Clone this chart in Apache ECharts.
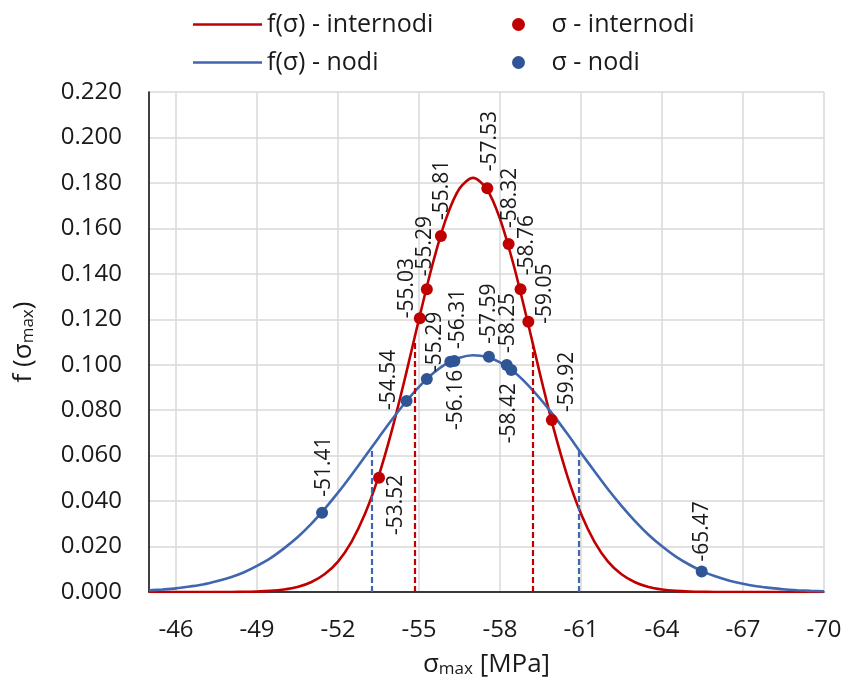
<!DOCTYPE html>
<html>
<head>
<meta charset="utf-8">
<script src="https://cdn.jsdelivr.net/npm/echarts@6/dist/echarts.min.js"></script>
<style>html,body{margin:0;padding:0;background:#fff}#chart{width:848px;height:693px}</style>
</head>
<body>
<div id="chart"></div>
<script>
// ---------------- data ----------------
const seriesNames = ['f(σ) - internodi', 'f(σ) - nodi', 'σ - internodi', 'σ - nodi'];
const xTicks = [-46, -49, -52, -55, -58, -61, -64, -67, -70];

const curveX = [-45, -45.5, -46, -46.5, -47, -47.5, -48, -48.5, -49, -49.5,
  -50, -50.5, -51, -51.5, -52, -52.5, -53, -53.5, -54, -54.5,
  -55, -55.5, -56, -56.5, -57, -57.5, -58, -58.5, -59, -59.5,
  -60, -60.5, -61, -61.5, -62, -62.5, -63, -63.5, -64, -64.5,
  -65, -65.5, -66, -66.5, -67, -67.5, -68, -68.5, -69, -69.5, -70];

const redCurve = [0, 0, 0, 0, 0, 0, 0, 0.0001, 0.0002, 0.0005,
  0.0011, 0.0022, 0.0043, 0.0078, 0.0134, 0.0221, 0.0344, 0.0508, 0.0713, 0.0950,
  0.1201, 0.1441, 0.1642, 0.1775, 0.1822, 0.1775, 0.1642, 0.1441, 0.1201, 0.0950,
  0.0713, 0.0508, 0.0344, 0.0221, 0.0134, 0.0078, 0.0043, 0.0022, 0.0011, 0.0005,
  0.0002, 0.0001, 0, 0, 0, 0, 0, 0, 0, 0, 0];

const blueCurve = [0.0007, 0.0011, 0.0016, 0.0024, 0.0033, 0.0047, 0.0064, 0.0086, 0.0115, 0.0149,
  0.0192, 0.0241, 0.0299, 0.0365, 0.0437, 0.0515, 0.0596, 0.0678, 0.0759, 0.0835,
  0.0903, 0.0960, 0.1004, 0.1031, 0.1042, 0.1035, 0.1010, 0.0970, 0.0915, 0.0849,
  0.0775, 0.0695, 0.0612, 0.0531, 0.0452, 0.0379, 0.0312, 0.0252, 0.0201, 0.0157,
  0.0121, 0.0091, 0.0068, 0.0050, 0.0036, 0.0025, 0.0018, 0.0012, 0.0008, 0.0005, 0.0003];

const redPointsX = [-53.52, -55.03, -55.29, -55.81, -57.53, -58.32, -58.76, -59.05, -59.92];
const redPointsY = [0.0503, 0.1204, 0.1332, 0.1566, 0.1776, 0.1531, 0.1332, 0.1189, 0.0757];

const bluePointsX = [-51.41, -54.54, -55.29, -56.16, -56.31, -57.59, -58.25, -58.42, -65.47];
const bluePointsY = [0.0349, 0.0840, 0.0937, 0.1013, 0.1016, 0.1035, 0.0999, 0.0977, 0.0090];

const redBandX = [-54.85, -59.23];
const redBandTop = 0.110;
const blueBandX = [-53.25, -60.90];
const blueBandTop = 0.063;

// ---------------- layout / style ----------------
const FONT = "'Open Sans', sans-serif";
const TXT = '#1a1a1a';
const RED = '#C00000';
const BLUE_LINE = '#3F66AE';
const BLUE_PT = '#2F5597';

// label placement per point: [screen dx, screen dy, direction (1 up, -1 down)]
const redLabelLayout = [[17, -3, -1], [-13, 0, 1], [-2, -13, 1], [1, -16, 1], [3, -17, 1],
  [1, -16, 1], [6, -14, 1], [17, 2, 1], [15, -8, 1]];
const blueLabelLayout = [[2, -16, 1], [-18, 9, 1], [8, -7, 1], [6, 8, -1], [4, -12, 1],
  [0, -13, 1], [1, -12, 1], [-2, 13, -1], [0, -10, 1]];

function zip(xs, ys) { return xs.map((x, i) => [x, ys[i]]); }
function buildPoints(xs, ys, layout) {
  return xs.map((x, i) => {
    const l = layout[i];
    return {
      value: [x, ys[i]],
      label: { align: l[2] > 0 ? 'left' : 'right', offset: [-l[1], l[0]] }
    };
  });
}
function bandLines(xs, top) {
  return xs.map(x => [{ coord: [x, 0] }, { coord: [x, top] }]);
}

const pointLabel = {
  show: true, rotate: 90, position: 'inside', verticalAlign: 'middle',
  fontSize: 21, fontFamily: FONT, color: TXT,
  formatter: p => p.value[0].toFixed(2)
};

const legendBase = {
  padding: 0, selectedMode: false, itemGap: 0,
  textStyle: { fontFamily: FONT, fontSize: 25, color: TXT }
};
const lineLegend = { icon: 'rect', itemWidth: 69, itemHeight: 2.5, symbolKeepAspect: false };
const dotLegend = { icon: 'circle', itemWidth: 56, itemHeight: 13 };
const titleStyle = { fontSize: 26, fontFamily: FONT, color: TXT,
  rich: { sub: { fontSize: 17, fontFamily: FONT, color: TXT, verticalAlign: 'bottom' } } };

const chart = echarts.init(document.getElementById('chart'), null, { renderer: 'canvas' });
chart.setOption({
  animation: false,
  backgroundColor: '#fff',
  grid: { left: 149, right: 24, top: 92, bottom: 101, outerBoundsMode: 'none' },
  legend: [
    Object.assign({}, legendBase, lineLegend, { data: [seriesNames[0]], left: 193, top: 12 }),
    Object.assign({}, legendBase, dotLegend, { data: [seriesNames[2]], left: 512, top: 12 }),
    Object.assign({}, legendBase, lineLegend, { data: [seriesNames[1]], left: 193, top: 50 }),
    Object.assign({}, legendBase, dotLegend, { data: [seriesNames[3]], left: 512, top: 50 })
  ],
  xAxis: {
    type: 'value', min: -70, max: -45, inverse: true,
    axisLine: { show: true, onZero: false, lineStyle: { color: '#000', width: 1.5 } },
    axisTick: { show: false, customValues: xTicks },
    axisLabel: { customValues: xTicks, margin: 26, fontSize: 24, fontFamily: FONT, color: TXT },
    splitLine: { show: true, lineStyle: { color: '#D9D9D9', width: 1.5 } },
    name: 'σ{sub|max} [MPa]', nameLocation: 'middle', nameGap: 60,
    nameTextStyle: titleStyle
  },
  yAxis: {
    type: 'value', min: 0, max: 0.22, interval: 0.02,
    axisLine: { show: true, lineStyle: { color: '#000', width: 1.5 } },
    axisTick: { show: false },
    axisLabel: { formatter: v => v.toFixed(3), margin: 27, fontSize: 24, fontFamily: FONT, color: TXT },
    splitLine: { show: true, lineStyle: { color: '#D9D9D9', width: 1.5 } },
    name: 'f (σ{sub|max})', nameLocation: 'middle', nameGap: 112, nameRotate: 90,
    nameTextStyle: titleStyle
  },
  series: [
    {
      name: seriesNames[0], type: 'line', data: zip(curveX, redCurve), smooth: 0.3,
      symbol: 'none', showSymbol: false, z: 3,
      lineStyle: { color: RED, width: 2.6 }, itemStyle: { color: RED },
      markLine: { silent: true, symbol: 'none', label: { show: false },
        lineStyle: { color: RED, width: 2.2, type: [6, 3] }, data: bandLines(redBandX, redBandTop) }
    },
    {
      name: seriesNames[1], type: 'line', data: zip(curveX, blueCurve), smooth: 0.3,
      symbol: 'none', showSymbol: false, z: 3,
      lineStyle: { color: BLUE_LINE, width: 2.6 }, itemStyle: { color: BLUE_LINE },
      markLine: { silent: true, symbol: 'none', label: { show: false },
        lineStyle: { color: BLUE_LINE, width: 2.2, type: [6, 3] }, data: bandLines(blueBandX, blueBandTop) }
    },
    {
      name: seriesNames[2], type: 'scatter', data: buildPoints(redPointsX, redPointsY, redLabelLayout),
      symbol: 'circle', symbolSize: 12, z: 5, itemStyle: { color: RED, opacity: 1 },
      label: pointLabel
    },
    {
      name: seriesNames[3], type: 'scatter', data: buildPoints(bluePointsX, bluePointsY, blueLabelLayout),
      symbol: 'circle', symbolSize: 12, z: 5, itemStyle: { color: BLUE_PT, opacity: 1 },
      label: pointLabel
    }
  ]
});
</script>
</body>
</html>
